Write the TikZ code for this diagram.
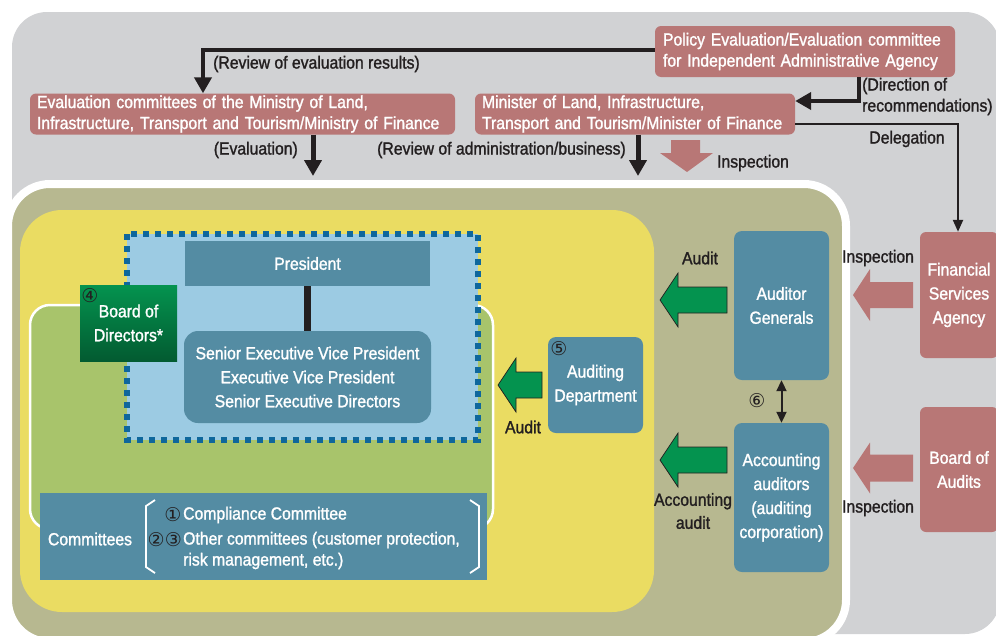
\documentclass[tikz,border=0pt]{standalone}
\usepackage{fontspec}
\setmainfont{Liberation Sans}[FakeStretch=0.9,FakeBold=1.4]
\newfontfamily\cfont{DejaVu Sans}
\usetikzlibrary{arrows.meta,calc}
\definecolor{bggray}{HTML}{D1D2D4}
\definecolor{olivebg}{HTML}{B7B890}
\definecolor{yellowbg}{HTML}{EADC62}
\definecolor{greenbg}{HTML}{A8C46B}
\definecolor{lightblue}{HTML}{9CCBE3}
\definecolor{steel}{HTML}{548CA3}
\definecolor{dotblue}{HTML}{0E679C}
\definecolor{pinkbox}{HTML}{B87776}
\definecolor{darkgreen}{HTML}{04934F}
\definecolor{txt}{HTML}{231F20}
\newcommand\fs{\fontsize{17.5}{21}\selectfont}
\newcommand\fsb{\fontsize{17.5}{24}\selectfont}
\newcommand\cn[1]{{\cfont\fontsize{19}{19}\selectfont #1}}
% left-pointing block arrow: style, tip x, head base x, tail x, center y, shaft half, head half
\newcommand\leftblock[7]{%
  \draw[#1] (#2,#5) -- (#3,#5-#7) -- (#3,#5-#6) -- (#4,#5-#6) -- (#4,#5+#6) -- (#3,#5+#6) -- (#3,#5+#7) -- cycle;}
\begin{document}
\begin{tikzpicture}[x=1pt,y=-1pt,
  every node/.style={inner sep=0pt, font=\fs},
  pbox/.style={fill=pinkbox, rounded corners=6pt, text=white},
  bbox/.style={fill=steel, rounded corners=8pt, text=white, align=center},
  lbl/.style={text=txt},
  thick conn/.style={draw=txt, line width=4pt, -{Triangle[length=16pt,width=17pt]}},
  thin conn/.style={draw=txt, line width=2.2pt, -{Triangle[length=12pt,width=10pt]}},
  garrow/.style={fill=darkgreen, draw=txt, line width=0.7pt, line join=miter},
  parrow/.style={fill=pinkbox, draw=none}
]
\useasboundingbox (0,0) rectangle (996,635);
% backgrounds
\fill[bggray, rounded corners=35pt] (12,12) rectangle (1000,634);
\draw[white, line width=8pt, fill=olivebg, rounded corners=42pt] (8,184) rectangle (846,642);
\fill[yellowbg, rounded corners=42pt] (20,210) rectangle (654,612);
\draw[white, line width=2.5pt, fill=greenbg, rounded corners=20pt] (30,305) rectangle (493,529);
\fill[lightblue] (127,234) rectangle (478,440);
\draw[dotblue, line width=6pt, dash pattern=on 6pt off 6pt] (127,234) rectangle (478,440);

% pink boxes
\node[pbox, text width=284pt, inner xsep=8pt, minimum height=51pt, align=left] (Pol) at (805,51.5)
  {Policy Evaluation/Evaluation committee\\for Independent Administrative Agency};
\node[pbox, text width=411pt, inner xsep=7pt, minimum height=41pt, align=left] (Eval) at (242.5,114)
  {Evaluation committees of the Ministry of Land,\\Infrastructure, Transport and Tourism/Ministry of Finance};
\node[pbox, text width=306pt, inner xsep=7pt, minimum height=41pt, align=left] (Min) at (635,114)
  {Minister of Land, Infrastructure,\\Transport and Tourism/Minister of Finance};
\node[pbox, minimum width=78pt, minimum height=126pt, align=center, font=\fsb] (FSA) at (959,295)
  {Financial\\Services\\Agency};
\node[pbox, minimum width=78pt, minimum height=125pt, align=center, font=\fsb] (BoA) at (959,469.5)
  {Board of\\Audits};

% blue boxes
\node[bbox, minimum width=95pt, minimum height=149pt, font=\fsb] (AG) at (781.5,305.5) {Auditor\\Generals};
\node[bbox, minimum width=95pt, minimum height=149pt, font=\fsb] (AA) at (781.5,497.5)
  {Accounting\\auditors\\(auditing\\corporation)};
\node[bbox, minimum width=95pt, minimum height=96pt, font=\fsb] (AD) at (595.5,385) {Auditing\\Department};
\node[text=txt] (n5) at (559,349) {\cn{⑤}};
\node[fill=steel, text=white, minimum width=245pt, minimum height=45pt] (Pres) at (307.5,263.5) {President};
\node[bbox, rounded corners=14pt, minimum width=247pt, minimum height=92pt, font=\fsb] (Sen) at (307.5,377)
  {Senior Executive Vice President\\Executive Vice President\\Senior Executive Directors};
\node[minimum width=97pt, minimum height=76pt, top color=darkgreen, bottom color=black!35!darkgreen!95!black,
  text=white, align=center, font=\fsb] (BoD) at (128.5,323) {Board of\\Directors*};
\node[text=txt] (n4) at (90,296) {\cn{④}};

% committees
\node[fill=steel, minimum width=447pt, minimum height=87pt] (Comm) at (263.5,536.5) {};
\node[text=white] (ct) at (90,539) {Committees};
\draw[white, line width=1.8pt] (155,500) -- (146,506) -- (146,567) -- (155,573);
\draw[white, line width=1.8pt] (470,500) -- (479,506) -- (479,567) -- (470,573);
\node[text=txt] (c1) at (173,515) {\cn{①}};
\node[text=txt, anchor=east] (c23) at (182,540) {\cn{②③}};
\node[text=white, anchor=west] (ca) at (183,515) {Compliance Committee};
\node[text=white, anchor=west] (cb) at (183,540) {Other committees (customer protection,};
\node[text=white, anchor=west] (cc) at (183,561) {risk management, etc.)};

% black connectors
\coordinate (r1) at (203,50);
\draw[thick conn] (Pol.west |- r1) -| (Eval.north -| r1);
\coordinate (r2) at (859,101);
\draw[thick conn] (Pol.south -| r2) -- (r2) -- (Min.east |- r2);
\coordinate (r3) at (958,124);
\draw[thin conn] (Min.east |- r3) -- (r3) -- (FSA.north -| r3);
\coordinate (e1) at (313,176);
\draw[thick conn, line width=5pt] (Eval.south -| e1) -- (e1);
\coordinate (e2) at (638,176);
\draw[thick conn, line width=5pt] (Min.south -| e2) -- (e2);
\draw[draw=txt, line width=7pt] (Pres.south) -- (Sen.north);
\draw[draw=txt, line width=2pt, {Triangle[length=11pt,width=10pt]}-{Triangle[length=11pt,width=10pt]}] (AG.south) -- (AA.north);
\node[text=txt] (n6) at (757,401) {\cn{⑥}};

% block arrows
\leftblock{garrow}{660}{678}{727}{300}{13}{27}
\leftblock{garrow}{498}{516}{542}{385}{13}{27}
\leftblock{garrow}{660}{678}{727}{460}{13}{27}
\leftblock{parrow}{853}{870}{913}{295}{13}{26}
\leftblock{parrow}{853}{870}{913}{468}{13.5}{25.5}
\fill[pinkbox] (671,140) -- (700,140) -- (700,153) -- (713,153) -- (687,172) -- (660,153) -- (671,153) -- cycle;

% labels
\node[lbl, anchor=west] (l1) at (213,64) {(Review of evaluation results)};
\node[lbl, anchor=east] (l2) at (298,150) {(Evaluation)};
\node[lbl, anchor=east] (l3) at (626,150) {(Review of administration/business)};
\node[lbl] (l4) at (753,163) {Inspection};
\node[lbl, anchor=west, align=left] (l5) at (862,96.5) {(Direction of\\recommendations)};
\node[lbl] (l6) at (907,139) {Delegation};
\node[lbl] (l7) at (700,258) {Audit};
\node[lbl] (l8) at (878,258) {Inspection};
\node[lbl] (l9) at (523,427) {Audit};
\node[lbl, align=center, font=\fontsize{17.5}{23}\selectfont] (l10) at (693,511) {Accounting\\audit};
\node[lbl] (l11) at (878,508) {Inspection};
\end{tikzpicture}
\end{document}
